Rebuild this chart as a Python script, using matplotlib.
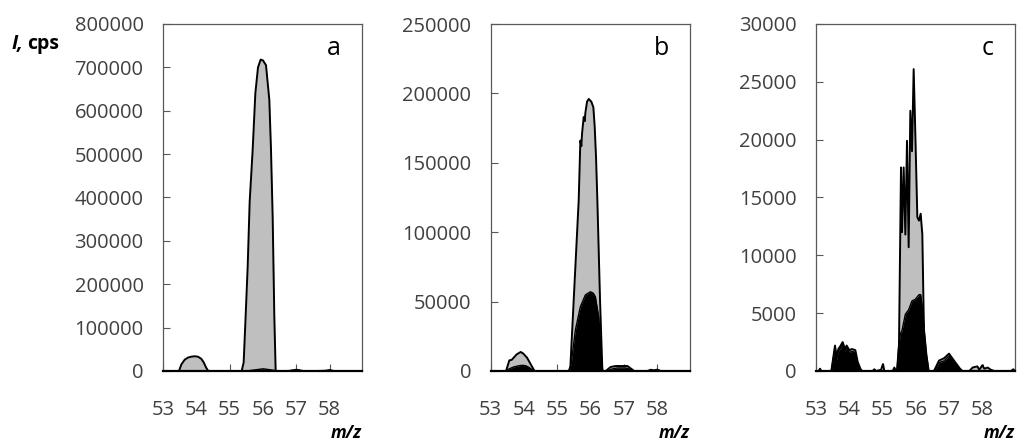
import matplotlib
matplotlib.use("Agg")
import matplotlib.pyplot as plt

plt.rcParams['font.family'] = ['Open Sans', 'DejaVu Sans']

# ---------------- data (m/z, counts per second) ----------------
# Panel a
a_gray_x = [53.0, 53.48, 53.55, 53.65, 53.75, 53.85, 53.95, 54.05, 54.15, 54.22, 54.3, 54.36,
            55.36, 55.42, 55.47, 55.54, 55.6, 55.69, 55.77, 55.85, 55.93, 56.0, 56.09, 56.19,
            56.24, 56.29, 56.34, 56.38, 56.8, 57.0, 57.2, 57.9, 58.0, 58.1, 58.97]
a_gray_y = [0, 0, 15000, 26000, 31000, 33000, 34000, 33000, 28000, 20000, 7000, 0,
            0, 20000, 110000, 240000, 390000, 510000, 640000, 700000, 718000, 716000, 705000, 625000,
            510000, 355000, 125000, 0, 0, 3000, 0, 0, 2000, 0, 0]
a_black_x = [53.0, 55.5, 55.8, 56.0, 56.2, 56.45, 56.8, 57.0, 57.2, 57.8, 58.0, 58.2, 58.97]
a_black_y = [0, 0, 3000, 5000, 3000, 0, 1000, 2500, 0, 1000, 2000, 0, 0]

# Panel b
b_gray_x = [53.0, 53.46, 53.56, 53.63, 53.78, 53.9, 53.98, 54.09, 54.19, 54.29, 54.32,
            55.34, 55.39, 55.44, 55.54, 55.64, 55.69, 55.72, 55.74, 55.79, 55.82, 55.84, 55.89,
            55.94, 56.02, 56.08, 56.12, 56.16, 56.2, 56.28, 56.35,
            56.45, 56.6, 56.75, 57.1, 57.25, 57.3, 57.7, 57.8, 57.9, 58.0, 58.1, 58.97]
b_gray_y = [0, 0, 7700, 8000, 12000, 13700, 12500, 9600, 5300, 1000, 0,
            0, 3000, 27000, 75000, 123000, 166000, 162000, 171000, 183000, 180000, 186000, 194000,
            196000, 194000, 190000, 176000, 154000, 123000, 51000, 0,
            0, 2900, 3600, 3600, 1000, 0, 0, 900, 500, 1000, 0, 0]
b_black_x = [53.0, 53.46, 53.55, 53.7, 53.85, 53.95, 54.05, 54.15, 54.25, 54.32,
             55.36, 55.42, 55.47, 55.54, 55.69, 55.84, 55.99, 56.08, 56.14, 56.24, 56.31, 56.36,
             56.5, 56.65, 56.8, 57.05, 57.2, 57.28, 58.97]
b_black_y = [0, 0, 1500, 3000, 3800, 4100, 3800, 2600, 900, 0,
             0, 6000, 16000, 29500, 46300, 54800, 57100, 56000, 53500, 39100, 15000, 0,
             0, 1500, 2200, 2200, 1000, 0, 0]

# Panel c
c_gray_x = [53.0, 53.08, 53.12, 53.16, 53.46, 53.57, 53.62, 53.67, 53.72, 53.8, 53.87, 53.92,
            54.0, 54.08, 54.18, 54.25, 54.33, 54.38,
            54.7, 54.75, 54.8, 54.95, 55.01, 55.05, 55.3, 55.35, 55.4,
            55.43, 55.49, 55.55, 55.58, 55.63, 55.68, 55.73, 55.78, 55.83, 55.88, 55.93, 55.98,
            56.04, 56.09, 56.14, 56.19, 56.24, 56.3, 56.36,
            56.54, 56.69, 56.84, 56.99, 57.09, 57.19, 57.32, 57.39,
            57.6, 57.7, 57.84, 57.9, 57.99, 58.05, 58.15, 58.25, 58.35, 58.85, 58.92, 58.97]
c_gray_y = [0, 0, 200, 0, 0, 2200, 1200, 1900, 2100, 2500, 1900, 2200,
            1800, 1900, 1800, 800, 200, 0,
            0, 150, 0, 100, 600, 0, 0, 300, 0,
            0, 2300, 17600, 12000, 17600, 11800, 19900, 10700, 22500, 19000, 26100, 20500,
            13300, 13000, 13600, 11800, 3200, 500, 0,
            0, 900, 1100, 1500, 1100, 700, 200, 0,
            0, 300, 400, 100, 500, 200, 300, 100, 0, 0, 150, 0]
c_black_x = [53.0, 53.46, 53.57, 53.62, 53.67, 53.72, 53.8, 53.87, 53.92, 54.0, 54.08, 54.18,
             54.25, 54.33, 54.38,
             55.43, 55.48, 55.53, 55.58, 55.68, 55.78, 55.88, 55.98, 56.09, 56.14, 56.19,
             56.26, 56.32, 56.39,
             56.54, 56.69, 56.84, 56.99, 57.09, 57.19, 57.32, 57.39, 58.97]
c_black_y = [0, 0, 2000, 1000, 1700, 1900, 2300, 1700, 2000, 1600, 1700, 1600,
             600, 150, 0,
             0, 2000, 3200, 3500, 4900, 5300, 6060, 6200, 6600, 6600, 5500,
             3200, 1400, 0,
             0, 720, 870, 1300, 920, 580, 150, 0, 0]

panel_letters = ['a', 'b', 'c']
y_max = [800000, 250000, 30000]
y_step = [100000, 50000, 5000]
x_ticks = [53, 54, 55, 56, 57, 58]

series = [
    (a_gray_x, a_gray_y, a_black_x, a_black_y),
    (b_gray_x, b_gray_y, b_black_x, b_black_y),
    (c_gray_x, c_gray_y, c_black_x, c_black_y),
]

# ---------------- figure ----------------
fig = plt.figure(figsize=(10.21, 4.41), dpi=100)
lefts = [163 / 1021, 490.7 / 1021, 816 / 1021]
width = 199 / 1021
bottom = 1 - 371 / 441
height = (371 - 24) / 441

text_col = '#404040'
gray = '#bfbfbf'

for i, (gx, gy, bx, by) in enumerate(series):
    ax = fig.add_axes([lefts[i], bottom, width, height])
    ax.fill_between(gx, gy, 0, color=gray, lw=0, zorder=2)
    ax.plot(gx, gy, color='black', lw=1.4, zorder=3)
    ax.fill_between(bx, by, 0, color='black', lw=0, zorder=4)
    ax.plot(bx, by, color='black', lw=1.0, zorder=5)

    ax.set_xlim(53, 58.97)
    ax.set_ylim(0, y_max[i])
    ax.set_xticks(x_ticks)
    ax.set_xticklabels([str(t) for t in x_ticks])
    yt = list(range(0, y_max[i] + 1, y_step[i]))
    ax.set_yticks(yt)
    ax.set_yticklabels([str(v) for v in yt])

    ax.tick_params(axis='x', direction='in', length=5, width=0.8, pad=21,
                   labelsize=14.5, colors='#595959', labelcolor=text_col)
    ax.tick_params(axis='y', direction='in', length=5, width=0.8, pad=14,
                   labelsize=14.5, colors='#595959', labelcolor=text_col)
    for s in ['left', 'right', 'top']:
        ax.spines[s].set_color('#595959')
        ax.spines[s].set_linewidth(0.9)
    ax.spines['bottom'].set_color('black')
    ax.spines['bottom'].set_linewidth(1.6)
    ax.spines['bottom'].set_zorder(6)

    ax.text(0.86, 0.93, panel_letters[i], transform=ax.transAxes, fontsize=18,
            ha='center', va='center', color='black')
    ax.text(1.0, -0.179, 'm/z', transform=ax.transAxes, fontsize=12.5,
            fontstyle='italic', fontweight='bold', ha='right', va='center',
            color='black')

fig.text(12 / 1021, 1 - 44 / 441, 'I,', fontsize=14, fontstyle='italic',
         fontweight='bold', ha='left', va='center')
fig.text(27 / 1021, 1 - 44 / 441, 'cps', fontsize=14, fontweight='bold',
         ha='left', va='center')

fig.savefig('out.png', dpi=100)
